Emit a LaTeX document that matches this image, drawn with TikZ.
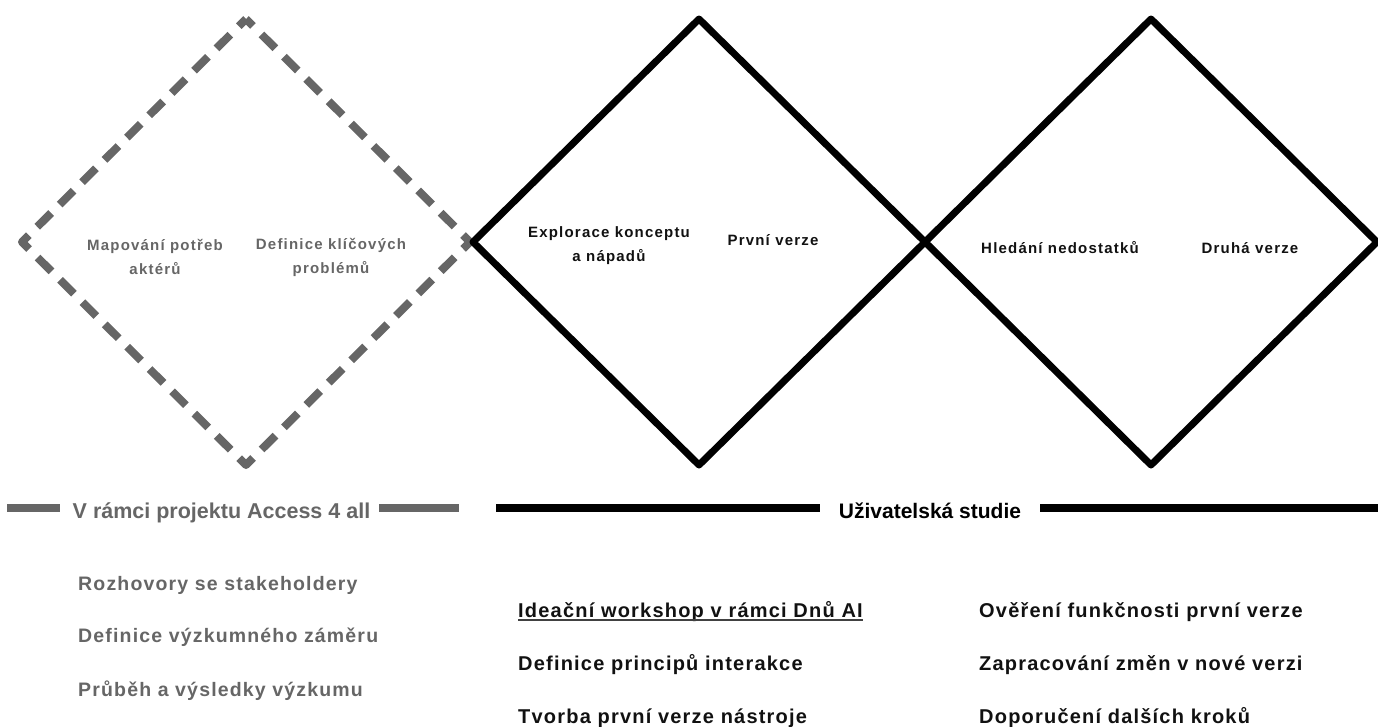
\documentclass[tikz,border=0pt]{standalone}
\usepackage{fontspec}
\setmainfont{Liberation Sans}
\newfontfamily\labfont{Liberation Sans}[LetterSpace=8]
\newfontfamily\listfont{Liberation Sans}[LetterSpace=6]
\definecolor{gr}{HTML}{666666}
\definecolor{ink}{HTML}{111111}
\tikzset{
  dashdia/.style={draw=gr, line width=8pt, line join=round, dash pattern=on 19.6pt off 12pt, dash phase=9.8pt},
  soliddia/.style={draw=black, line width=7pt, line join=round},
  glab/.style={font={\labfont\bfseries\fontsize{15}{24}\selectfont}, text=gr, align=center, inner sep=0pt},
  blab/.style={font={\labfont\bfseries\fontsize{15}{24}\selectfont}, text=ink, align=center, inner sep=0pt},
  glist/.style={font={\listfont\bfseries\fontsize{19.5}{23}\selectfont}, text=gr, anchor=base west, inner sep=0pt},
  blist/.style={font={\listfont\bfseries\fontsize{20}{23}\selectfont}, text=ink, anchor=base west, inner sep=0pt},
  gband/.style={draw=gr, line width=8pt},
  bband/.style={draw=black, line width=8.5pt},
}
\begin{document}
\begin{tikzpicture}[x=1pt,y=-1pt]
\useasboundingbox (0,0) rectangle (1378,726);
% diamond 1 (dashed)
\coordinate (d1t) at (246,19);
\coordinate (d1r) at (470,242);
\coordinate (d1b) at (246,465);
\coordinate (d1l) at (22,242);
\draw[dashdia] (d1t) -- (d1r) -- (d1b) -- (d1l) -- cycle;
% diamond 2
\coordinate (d2t) at (699,19);
\coordinate (d2r) at (925,242);
\coordinate (d2b) at (699,465);
\coordinate (d2l) at (473,242);
\draw[soliddia] (d2t) -- (d2r) -- (d2b) -- (d2l) -- cycle;
% diamond 3
\coordinate (d3t) at (1151,19);
\coordinate (d3r) at (1377,242);
\coordinate (d3b) at (1151,465);
\draw[soliddia] (d3t) -- (d3r) -- (d3b) -- (d2r) -- cycle;
% labels in diamonds
\node[glab] (map) at (155,257) {Mapování potřeb\\aktérů};
\node[glab] (def) at (331,257) {Definice klíčových\\problémů};
\node[blab] (expl) at (609,246) {Explorace konceptu\\a nápadů};
\node[blab, anchor=base] (prv) at (773,245) {První verze};
\node[blab, anchor=base] (hled) at (1060,253) {Hledání nedostatků};
\node[blab, anchor=base] (dru) at (1250,253) {Druhá verze};
% bands
\node[font={\bfseries\fontsize{21.5}{24}\selectfont}, text=gr, anchor=base, inner sep=0pt] (acc) at (221.5,518) {V rámci projektu Access 4 all};
\coordinate (g1a) at (7,508);
\coordinate (g1b) at (60,508);
\coordinate (g2a) at (379,508);
\coordinate (g2b) at (459,508);
\draw[gband] (g1a) -- (g1b);
\draw[gband] (g2a) -- (g2b);
\node[font={\bfseries\fontsize{21}{24}\selectfont}, text=black, anchor=base, inner sep=0pt] (uzi) at (930,518) {Uživatelská studie};
\coordinate (b1a) at (496,508);
\coordinate (b1b) at (820,508);
\coordinate (b2a) at (1040,508);
\coordinate (b2b) at (1378,508);
\draw[bband] (b1a) -- (b1b);
\draw[bband] (b2a) -- (b2b);
% lists
\node[glist] (l1) at (78,590) {Rozhovory se stakeholdery};
\node[glist] (l2) at (78,642) {Definice výzkumného záměru};
\node[glist] (l3) at (78,696) {Průběh a výsledky výzkumu};
\node[blist] (m1) at (518,617) {Ideační workshop v rámci Dnů AI};
\draw[draw=ink!80, line width=1.5pt] ([yshift=-3pt]m1.base west) -- ([yshift=-3pt]m1.base east);
\node[blist] (m2) at (518,670) {Definice principů interakce};
\node[blist] (m3) at (518,723) {Tvorba první verze nástroje};
\node[blist] (r1) at (979,617) {Ověření funkčnosti první verze};
\node[blist] (r2) at (979,670) {Zapracování změn v nové verzi};
\node[blist] (r3) at (979,723) {Doporučení dalších kroků};
\end{tikzpicture}
\end{document}
